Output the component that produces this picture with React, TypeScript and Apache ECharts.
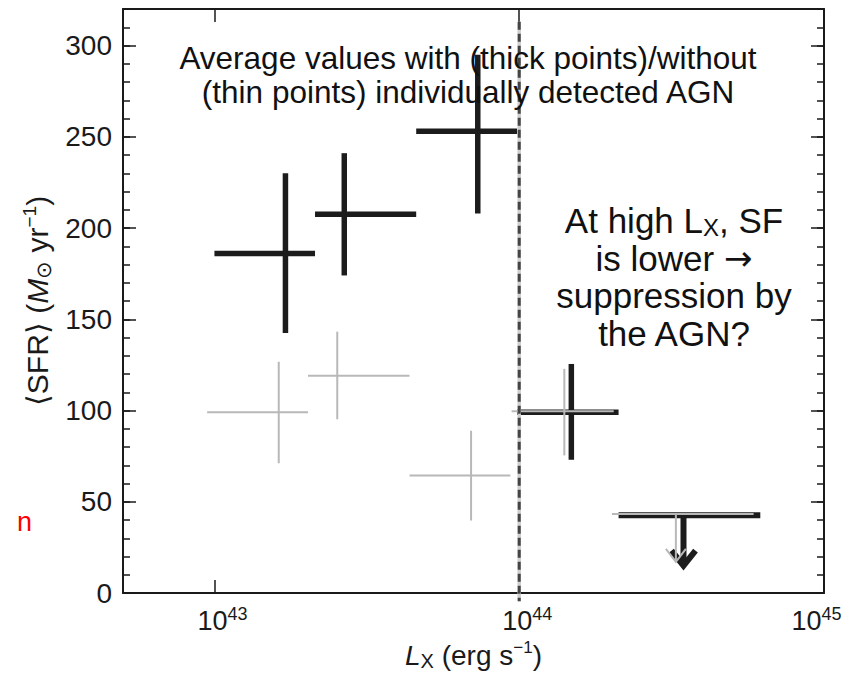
import React, { useEffect, useRef } from 'react';
import * as echarts from 'echarts';

const FONT = '"Liberation Sans", Arial, Helvetica, sans-serif';

// x axis is log10(L_X / erg s^-1)
const X_MIN = 42.7;
const X_MAX = 45;
const X_TICKS = [43, 44, 45];
const X_TOP_TICKS = [43, 44];
const Y_MIN = 0;
const Y_MAX = 320;
const Y_TICKS = [0, 50, 100, 150, 200, 250, 300];
const AGN_DIVIDE_LOGLX = 44;
const AGN_DIVIDE_SPAN = [313, -4.5];

// Thick points: with individually detected AGN
const THICK_LOGLX = [43.233, 43.426, 43.864, 44.171];
const THICK_LOGLX_LO = [43.0, 43.33, 43.662, 43.993];
const THICK_LOGLX_HI = [43.33, 43.662, 43.993, 44.326];
const THICK_SFR = [186, 207.5, 253, 99];
const THICK_SFR_LO = [142.5, 174, 208, 73];
const THICK_SFR_HI = [230, 241, 295, 125.5];
// Thick upper limit
const THICK_LIM_LOGLX = [44.539];
const THICK_LIM_LOGLX_LO = [44.326];
const THICK_LIM_LOGLX_HI = [44.791];
const THICK_LIM_SFR = [42.6];
const THICK_LIM_TIP = [15];

// Thin points: without individually detected AGN
const THIN_LOGLX = [43.211, 43.403, 43.842, 44.148];
const THIN_LOGLX_LO = [42.976, 43.307, 43.64, 43.975];
const THIN_LOGLX_HI = [43.307, 43.64, 43.971, 44.31];
const THIN_SFR = [99, 119.1, 64.4, 99.6];
const THIN_SFR_LO = [71.1, 95.2, 39.7, 75.4];
const THIN_SFR_HI = [126.7, 143.2, 88.9, 122.8];
// Thin upper limit
const THIN_LIM_LOGLX = [44.514];
const THIN_LIM_LOGLX_LO = [44.304];
const THIN_LIM_LOGLX_HI = [44.769];
const THIN_LIM_SFR = [43.3];
const THIN_LIM_TIP = [17];

const THICK_COLOR = '#1c1c1c';
const THIN_COLOR = '#b8b8b8';
const AXIS_COLOR = '#1a1a1a';

const crossRender = (color: string, width: number) => (_p: any, api: any) => {
  const x = api.value(0);
  const y = api.value(1);
  const l = api.coord([api.value(2), y]);
  const r = api.coord([api.value(3), y]);
  const b = api.coord([x, api.value(4)]);
  const t = api.coord([x, api.value(5)]);
  const style = { stroke: color, lineWidth: width, lineCap: 'butt' };
  return {
    type: 'group',
    children: [
      { type: 'line', shape: { x1: l[0], y1: l[1], x2: r[0], y2: r[1] }, style },
      { type: 'line', shape: { x1: b[0], y1: b[1], x2: t[0], y2: t[1] }, style },
    ],
  };
};

const limitRender = (color: string, width: number, armW: number, armH: number) => (_p: any, api: any) => {
  const x = api.value(0);
  const y = api.value(1);
  const l = api.coord([api.value(2), y]);
  const r = api.coord([api.value(3), y]);
  const top = api.coord([x, y]);
  const tip = api.coord([x, api.value(4)]);
  const style = { stroke: color, lineWidth: width, lineCap: 'butt', lineJoin: 'miter' };
  return {
    type: 'group',
    children: [
      { type: 'line', shape: { x1: l[0], y1: l[1], x2: r[0], y2: r[1] }, style },
      { type: 'line', shape: { x1: top[0], y1: top[1], x2: tip[0], y2: tip[1] - 2 }, style },
      {
        type: 'polyline',
        shape: {
          points: [
            [tip[0] - armW, tip[1] - armH],
            [tip[0], tip[1]],
            [tip[0] + armW, tip[1] - armH],
          ],
        },
        style: { ...style, fill: null },
      },
    ],
  };
};

const dividerRender = (_p: any, api: any) => {
  const a = api.coord([api.value(0), api.value(1)]);
  const b = api.coord([api.value(0), api.value(2)]);
  return {
    type: 'group',
    children: [
      { type: 'line', shape: { x1: a[0], y1: a[1], x2: b[0], y2: b[1] }, style: { stroke: '#cfcfcf', lineWidth: 3.5 } },
      { type: 'line', shape: { x1: a[0], y1: a[1], x2: b[0], y2: b[1] }, style: { stroke: '#444', lineWidth: 3, lineDash: [8, 4] } },
    ],
  };
};

const supRich = {
  b: { fontFamily: FONT, fontSize: 27, color: AXIS_COLOR, lineHeight: 32 },
  s: { fontFamily: FONT, fontSize: 18, color: AXIS_COLOR, lineHeight: 17, verticalAlign: 'top' },
  pl: { width: 16, lineHeight: 32 },
  pr: { width: 15, lineHeight: 32 },
};

const makeNameRich = (size: number) => ({
  i: { fontFamily: FONT, fontSize: size, fontStyle: 'italic', color: AXIS_COLOR, lineHeight: size + 4 },
  a: { fontFamily: FONT, fontSize: size, color: AXIS_COLOR, lineHeight: size + 4 },
  sub: { fontFamily: FONT, fontSize: Math.round(size * 0.7), color: AXIS_COLOR, lineHeight: Math.round(size * 0.58), verticalAlign: 'bottom' },
  sup: { fontFamily: FONT, fontSize: Math.round(size * 0.62), color: AXIS_COLOR, lineHeight: Math.round(size * 0.62), verticalAlign: 'top' },
});

export default function App() {
  const ref = useRef<HTMLDivElement>(null);
  useEffect(() => {
    if (!ref.current) return;
    const chart = echarts.init(ref.current, undefined, { renderer: 'svg' });

    const thickData = THICK_LOGLX.map((x, i) => [x, THICK_SFR[i], THICK_LOGLX_LO[i], THICK_LOGLX_HI[i], THICK_SFR_LO[i], THICK_SFR_HI[i]]);
    const thinData = THIN_LOGLX.map((x, i) => [x, THIN_SFR[i], THIN_LOGLX_LO[i], THIN_LOGLX_HI[i], THIN_SFR_LO[i], THIN_SFR_HI[i]]);
    const thickLim = THICK_LIM_LOGLX.map((x, i) => [x, THICK_LIM_SFR[i], THICK_LIM_LOGLX_LO[i], THICK_LIM_LOGLX_HI[i], THICK_LIM_TIP[i]]);
    const thinLim = THIN_LIM_LOGLX.map((x, i) => [x, THIN_LIM_SFR[i], THIN_LIM_LOGLX_LO[i], THIN_LIM_LOGLX_HI[i], THIN_LIM_TIP[i]]);

    const axisLine = { show: true, onZero: false, lineStyle: { color: AXIS_COLOR, width: 2 } };
    const tickLine = { color: AXIS_COLOR, width: 1.5 };

    const option: any = {
      animation: false,
      grid: { left: 123, right: 33, top: 9, bottom: 80, containLabel: false, outerBoundsMode: 'none' },
      xAxis: [
        {
          type: 'value',
          position: 'bottom',
          min: X_MIN,
          max: X_MAX,
          axisLine,
          axisTick: { show: true, inside: true, length: 13, customValues: X_TICKS, lineStyle: tickLine },
          axisLabel: {
            show: true,
            customValues: X_TICKS,
            margin: 12,
            formatter: (v: number) => {
              const e = Math.round(v);
              return e >= X_MAX ? `{b|10}{s|${e}}{pr|}` : `{pl|}{b|10}{s|${e}}`;
            },
            rich: supRich,
          },
          splitLine: { show: false },
          name: '{i|L}{sub|X}{a| (erg s}{sup|−1}{a|)}',
          nameLocation: 'middle',
          nameGap: 45,
          nameTextStyle: { rich: makeNameRich(28) },
        },
        {
          type: 'value',
          position: 'top',
          min: X_MIN,
          max: X_MAX,
          axisLine,
          axisTick: { show: true, inside: true, length: 13, customValues: X_TOP_TICKS, lineStyle: tickLine },
          axisLabel: { show: false },
          splitLine: { show: false },
        },
      ],
      yAxis: [
        {
          type: 'value',
          position: 'left',
          min: Y_MIN,
          max: Y_MAX,
          interval: 10,
          axisLine,
          axisTick: { show: true, inside: true, length: 7, lineStyle: tickLine },
          axisLabel: {
            show: true,
            customValues: Y_TICKS,
            margin: 11,
            fontFamily: FONT,
            fontSize: 28,
            color: AXIS_COLOR,
          },
          splitLine: { show: false },
          name: '{a|⟨SFR⟩ (}{i|M}{sub|⊙}{a| yr}{sup|−1}{a|)}',
          nameLocation: 'middle',
          nameGap: 68,
          nameRotate: 90,
          nameTextStyle: { rich: makeNameRich(30) },
        },
        {
          type: 'value',
          position: 'left',
          min: Y_MIN,
          max: Y_MAX,
          axisLine: { show: false },
          axisTick: { show: true, inside: true, length: 13, customValues: Y_TICKS, lineStyle: tickLine },
          axisLabel: { show: false },
          splitLine: { show: false },
        },
        {
          type: 'value',
          position: 'right',
          min: Y_MIN,
          max: Y_MAX,
          interval: 10,
          axisLine,
          axisTick: { show: true, inside: true, length: 7, lineStyle: tickLine },
          axisLabel: { show: false },
          splitLine: { show: false },
        },
        {
          type: 'value',
          position: 'right',
          min: Y_MIN,
          max: Y_MAX,
          axisLine: { show: false },
          axisTick: { show: true, inside: true, length: 13, customValues: Y_TICKS, lineStyle: tickLine },
          axisLabel: { show: false },
          splitLine: { show: false },
        },
      ],
      series: [
        { type: 'custom', name: 'with AGN', renderItem: crossRender(THICK_COLOR, 5.5), data: thickData, z: 3 },
        { type: 'custom', name: 'with AGN limit', renderItem: limitRender(THICK_COLOR, 6, 12, 15), data: thickLim, z: 3 },
        { type: 'custom', name: 'without AGN', renderItem: crossRender(THIN_COLOR, 2), data: thinData, z: 4 },
        { type: 'custom', name: 'without AGN limit', renderItem: limitRender(THIN_COLOR, 2, 10, 13), data: thinLim, z: 4 },
        {
          type: 'custom',
          name: 'divide',
          renderItem: dividerRender,
          data: [[AGN_DIVIDE_LOGLX, AGN_DIVIDE_SPAN[0], AGN_DIVIDE_SPAN[1]]],
          z: 5,
        },
      ],
      graphic: [
        {
          type: 'text',
          x: 468,
          y: 75,
          z: 10,
          style: {
            text: 'Average values with (thick points)/without\n(thin points) individually detected AGN',
            fontFamily: FONT,
            fontSize: 31.5,
            lineHeight: 34,
            fill: '#111',
            textAlign: 'center',
            textVerticalAlign: 'middle',
          },
        },
        {
          type: 'text',
          x: 674,
          y: 277,
          z: 10,
          style: {
            text: '{a|At high L}{sub|X}{a|, SF}\n{a|is lower }{ar|→}\n{a|suppression by}\n{a|the AGN?}',
            fontFamily: FONT,
            fontSize: 35,
            fill: '#111',
            textAlign: 'center',
            textVerticalAlign: 'middle',
            rich: {
              a: { fontFamily: FONT, fontSize: 35, lineHeight: 37.5, fill: '#111' },
              ar: { fontFamily: '"DejaVu Sans", sans-serif', fontSize: 34, lineHeight: 37.5, fill: '#111' },
              sub: { fontFamily: FONT, fontSize: 24, lineHeight: 16, fill: '#111', verticalAlign: 'bottom' },
            },
          },
        },
        {
          type: 'text',
          x: 17,
          y: 522,
          z: 10,
          style: {
            text: 'n',
            fontFamily: FONT,
            fontSize: 27,
            fill: '#ff0000',
            textAlign: 'left',
            textVerticalAlign: 'middle',
          },
        },
      ],
    };

    chart.setOption(option);
    return () => chart.dispose();
  }, []);

  return <div ref={ref} style={{ position: 'fixed', left: 0, top: 0, width: 857, height: 673, background: '#fff' }} />;
}
